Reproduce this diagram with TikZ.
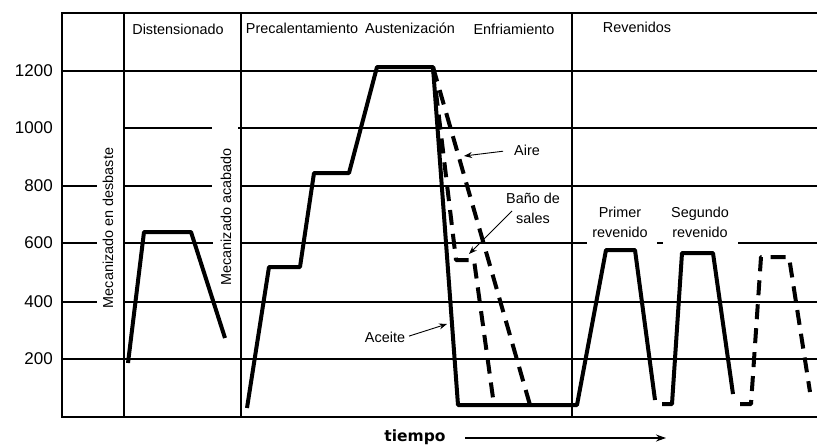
\documentclass[tikz,border=0pt]{standalone}
\usepackage{fontspec}
\setmainfont{Liberation Sans}
\newfontfamily\axisfont{DejaVu Sans}
\usetikzlibrary{arrows.meta}

\begin{document}
\begin{tikzpicture}[x=1pt,y=-1pt,
  gridline/.style={line width=1.2pt},
  frameline/.style={line width=2.8pt},
  divider/.style={line width=1.3pt},
  curve/.style={line width=4pt, line join=round},
  dashcurve/.style={line width=4pt, line join=round, dash pattern=on 15pt off 9pt},
  lab/.style={font=\fontsize{14.4}{20}\selectfont, inner sep=1pt},
  tick/.style={font=\fontsize{17}{18}\selectfont, inner sep=0pt, anchor=east},
  note/.style={line width=0.9pt, -{Stealth[length=8pt,width=6pt]}},
  timearrow/.style={line width=1.1pt, -{Stealth[length=10pt,width=7pt]}}]

\useasboundingbox (0,0) rectangle (817,445);

% temperature grid (gaps leave room for the vertical labels)
\draw[gridline] (62,71) -- (817,71);
\draw[gridline] (124,128) -- (212,128) (238,128) -- (817,128);
\draw[gridline] (62,186) -- (97,186) (124,186) -- (212,186) (241,186) -- (817,186);
\draw[gridline] (62,243) -- (97,243) (124,243) -- (213,243) (241,243) -- (587,243)
                (657,243) -- (663,243) (738,243) -- (817,243);
\draw[gridline] (62,302) -- (97,302) (124,302) -- (817,302);
\draw[gridline] (62,359) -- (817,359);

% stage dividers
\draw[divider] (124,13) -- (124,417);
\draw[divider] (241,13) -- (241,417);
\draw[divider] (572,13) -- (572,417);

% frame
\draw[frameline] (817,13) -- (62,13) -- (62,417) -- (817,417);

% temperature ticks
\node[tick] (t1200) at (53,71) {1200};
\node[tick] (t1000) at (53,128) {1000};
\node[tick] (t800) at (53,186) {800};
\node[tick] (t600) at (53,243) {600};
\node[tick] (t400) at (53,302) {400};
\node[tick] (t200) at (53,359) {200};

% stage titles
\node[lab] (dist) at (178,29) {Distensionado};
\node[lab] (prec) at (302,28) {Precalentamiento};
\node[lab] (aust) at (410,28) {Austenización};
\node[lab] (enfr) at (514,29) {Enfriamiento};
\node[lab] (reve) at (637,27) {Revenidos};

% machining steps
\node[lab, rotate=90] (desb) at (108,228) {Mecanizado en desbaste};
\node[lab, rotate=90] (acab) at (226,217) {Mecanizado acabado};

% stress relief cycle
\draw[curve] (128,363) -- (144,232) -- (191,232) -- (225,338);

% hardening cycle with oil quench and first/second tempering
\draw[curve] (247,408) -- (269,267) -- (300,267) -- (314,173) -- (349,173)
  -- (377,67) -- (433,67) -- (458,405) -- (577,405) -- (606,250) -- (635,250) -- (655,400);
\draw[curve] (662,404) -- (672,404) -- (682,253) -- (713,253) -- (733,394);

% alternative quenches
\draw[dashcurve] (433,67) -- (530,405);
\draw[dashcurve] (433,67) -- (456,260) -- (474,260) -- (493,398);

% optional third tempering
\draw[dashcurve] (740,404) -- (751,404) -- (761,257) -- (789,257) -- (810,392);

% quench labels
\node[lab] (aire) at (527,150) {Aire};
\coordinate (aireTip) at (464,156);
\draw[note, shorten <=10pt] (aire.west) -- (aireTip);

\node[lab, align=center] (bano) at (533,208) {Baño de\\sales};
\coordinate (banoFrom) at (512,211);
\coordinate (banoTip) at (469,254);
\draw[note] (banoFrom) -- (banoTip);

\node[lab] (aceite) at (385,337) {Aceite};
\coordinate (aceiteTip) at (447,324);
\draw[note, shorten <=3pt] (aceite.east) -- (aceiteTip);

% tempering labels
\node[lab, align=center] (prim) at (620,222) {Primer\\revenido};
\node[lab, align=center] (segu) at (700,222) {Segundo\\revenido};

% time axis
\node[font=\axisfont\bfseries\fontsize{15.5}{18}\selectfont, inner sep=0pt] (tiempo) at (415,437) {tiempo};
\coordinate (tStart) at (465,438);
\coordinate (tEnd) at (666,438);
\draw[timearrow] (tStart) -- (tEnd);
\end{tikzpicture}
\end{document}
